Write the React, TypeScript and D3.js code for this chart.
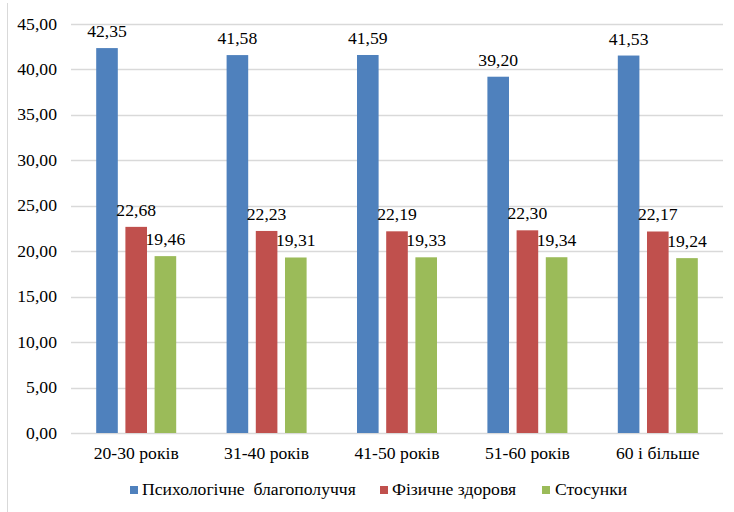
import React from "react";
import * as d3 from "d3";

const categories = ["20-30 років", "31-40 років", "41-50 років", "51-60 років", "60 і більше"];
const seriesNames = ["Психологічне  благополуччя", "Фізичне здоровя", "Стосунки"];
const psych = [42.35, 41.58, 41.59, 39.2, 41.53];
const physical = [22.68, 22.23, 22.19, 22.3, 22.17];
const relations = [19.46, 19.31, 19.33, 19.34, 19.24];
const yTicks = [0, 5, 10, 15, 20, 25, 30, 35, 40, 45];
const colors = ["#4F81BD", "#C0504D", "#9BBB59"];

const W = 734;
const H = 512;
const FONT = "Liberation Serif";
const fmt = (v: number) => v.toFixed(2).replace(".", ",");

type LabelProps = { x: number; y: number; anchor?: "start" | "middle" | "end"; children: React.ReactNode };

// Text slightly widened horizontally, as in the original document rendering
function Label({ x, y, anchor = "start", children }: LabelProps) {
  return (
    <text
      transform={`translate(${x},${y}) scale(1.07,1)`}
      textAnchor={anchor}
      fill="#000"
      style={{ fontFamily: FONT, fontSize: "16.5px", whiteSpace: "pre" }}
    >
      {children}
    </text>
  );
}

export default function App() {
  const series = [psych, physical, relations];
  const x = d3.scaleBand<string>().domain(categories).range([71, 723]).paddingInner(0).paddingOuter(0);
  const inner = d3.scaleBand<number>().domain([0, 1, 2]).range([-40, 40]).paddingInner(0.26).paddingOuter(0);
  const y = d3.scaleLinear().domain([0, 45]).range([433, 24]);

  const legendItems = [
    { mx: 130, tx: 142 },
    { mx: 380, tx: 392 },
    { mx: 542, tx: 555 },
  ];

  return (
    <svg width={W} height={H} style={{ position: "absolute", left: 0, top: 0, background: "#fff" }}>
      <line x1={7.5} x2={7.5} y1={3} y2={H} stroke="#D9D9D9" strokeWidth={1} />
      {yTicks.map((t) => (
        <g key={t}>
          <line x1={71} x2={723} y1={Math.round(y(t)) + 0.5} y2={Math.round(y(t)) + 0.5} stroke="#D9D9D9" strokeWidth={1.3} />
          <Label x={57} y={y(t) + 5.5} anchor="end">
            {fmt(t)}
          </Label>
        </g>
      ))}
      {categories.map((c, ci) => {
        const cx = (x(c) as number) + x.bandwidth() / 2;
        return (
          <g key={c}>
            {series.map((s, si) => {
              const bx = cx + (inner(si) as number);
              const bw = inner.bandwidth();
              return (
                <g key={si}>
                  <rect x={bx} y={y(s[ci])} width={bw} height={y(0) - y(s[ci])} fill={colors[si]} />
                  <Label x={bx + bw / 2} y={y(s[ci]) - 11} anchor="middle">
                    {fmt(s[ci])}
                  </Label>
                </g>
              );
            })}
            <Label x={cx} y={459} anchor="middle">
              {c}
            </Label>
          </g>
        );
      })}
      {seriesNames.map((n, i) => (
        <g key={n}>
          <rect x={legendItems[i].mx} y={486} width={8} height={8} fill={colors[i]} />
          <Label x={legendItems[i].tx} y={495}>
            {n}
          </Label>
        </g>
      ))}
    </svg>
  );
}
